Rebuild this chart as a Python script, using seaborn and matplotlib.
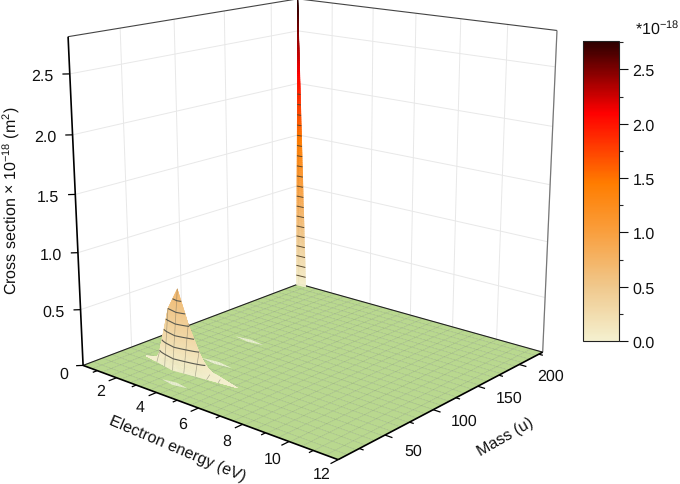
import numpy as np, matplotlib
matplotlib.use('Agg')
import matplotlib.pyplot as plt
from matplotlib.colors import LinearSegmentedColormap, Normalize
from matplotlib.cm import ScalarMappable
from mpl_toolkits.mplot3d import proj3d
import seaborn as sns
sns.set_style('white')
plt.rcParams['font.family']=['Liberation Sans','DejaVu Sans']
plt.rcParams['mathtext.default']='regular'
plt.rcParams['text.hinting']='no_hinting'
plt.rcParams['text.hinting_factor']=1
W,H=680,485
FS=11.3
energy_range=(0.25,12.0)
mass_range=(5.0,230.0)
z_range=(0.0,2.8)
energy_ticks=[2,4,6,8,10,12]
energy_minor=[1,3,5,7,9,11]
mass_ticks=[50,100,150,200]
mass_minor=[25,75,125,175,225]
z_ticks=[0.0,0.5,1.0,1.5,2.0,2.5]
z_ticklabels=['0','0.5','1.0','1.5','2.0','2.5']
cbar_max=2.765
cbar_ticks=[0.0,0.5,1.0,1.5,2.0,2.5]
cbar_minor=[0.25,0.75,1.25,1.75,2.25,2.75]
color_nodes=[(0.0,'#f4f0cf'),(0.5,'#f0c88c'),(1.0,'#f99f3e'),(1.45,'#ff7d00'),(2.1,'#ff0000'),(2.765,'#2a0000')]
cmap=LinearSegmentedColormap.from_list('cs',[(v/cbar_max,c) for v,c in color_nodes])
norm=Normalize(0,cbar_max)
# broad ridge: energies and heights along its crest at one mass
ridge_energy=[1.3,1.8,2.0,2.5,3.0,3.5,4.0,4.5,5.8]
ridge_height=[0.0,0.0,0.08,0.5,0.7,0.42,0.2,0.03,0.0]
ridge_mass=45.0
ridge_front_energy=[1.3,3.0,5.8]
ridge_front_mass=[45.0,38.5,45.0]
ridge_back_energy=[1.3,1.8,4.5,5.8]
ridge_back_mass=[45.0,52.0,52.0,45.0]
ridge_mesh_energy=[2.0,2.5,3.0,3.5,4.0,4.5,5.0]
# sharp spike in the corner
spike_energy=[0.25,0.75]
spike_base_mass=[227.0,227.5]
spike_apex=(0.25,230.0,2.8)
# thin low-level streaks on the floor: energy start, energy end, mass
streak_start=[2.4,3.3,2.95]
streak_end=[3.8,4.55,4.45]
streak_mass=[113.0,23.0,67.5]
floor_energy=np.linspace(0.25,12.0,25)
floor_mass=np.linspace(5,230,27)

fig=plt.figure(figsize=(W/100,H/100),dpi=100)
s,tx,ty=3058.7,315.51,282.86
L=(tx-0.095*s)/W;B=(ty-0.095*s)/H;SZ=0.185*s
ax=fig.add_axes([L,B,SZ/W,SZ/H],projection='3d',computed_zorder=False)
ax.set_proj_type('persp',focal_length=0.487)
ax.view_init(15.822,-49.6)
ax.set_box_aspect((2.994,2.974,2.999))
ax.set_xlim(*energy_range);ax.set_ylim(*mass_range);ax.set_zlim(*z_range)
ax.set_xticks(energy_ticks);ax.set_yticks(mass_ticks);ax.set_zticks(z_ticks)
ax.set_xticklabels([]);ax.set_yticklabels([]);ax.set_zticklabels([])
for a in (ax.xaxis,ax.yaxis,ax.zaxis):
    a.set_pane_color((1,1,1,0))
    a.pane.set_edgecolor((1,1,1,0))
    a._axinfo['grid'].update(color='#e8e8e8',linewidth=0.7)
    a._axinfo['tick'].update(linewidth={True:0,False:0})
    a.line.set_color((1,1,1,0))
E0,E1=energy_range;M0,M1=mass_range;Z0,Z1=z_range
# floor
X,Y=np.meshgrid(floor_energy,floor_mass)
ax.plot_surface(X,Y,np.zeros_like(X),color='#b9d88f',edgecolor=(0.40,0.50,0.33,0.30),linewidth=0.35,shade=False,zorder=2)
# box edges
def edge(p,q,c,lw,z=3):
    ax.plot([p[0],q[0]],[p[1],q[1]],[p[2],q[2]],color=c,lw=lw,zorder=z,solid_capstyle='butt')
edge((E0,M1,0),(E0,M1,Z1),'#555555',0.8,1)
edge((E0,M0,Z1),(E0,M1,Z1),'#444444',0.8)
edge((E0,M1,Z1),(E1,M1,Z1),'#444444',0.8)
edge((E1,M1,0),(E1,M1,Z1),'#777777',0.9)
edge((E0,M0,0),(E0,M1,0),'#222222',0.8)
edge((E0,M1,0),(E1,M1,0),'#222222',0.8)
edge((E0,M0,0),(E1,M0,0),'black',1.2)
edge((E1,M0,0),(E1,M1,0),'black',1.2)
edge((E0,M0,0),(E0,M0,Z1),'black',1.2)
# ticks
for v,n in [(t,7) for t in energy_ticks]+[(t,4) for t in energy_minor]:
    edge((v,M0,0),(v,M0-n,0),'black',0.9)
for v,n in [(t,0.3) for t in mass_ticks]+[(t,0.17) for t in mass_minor]:
    edge((E1,v,0),(E1+n,v,0),'black',0.9)
for v in z_ticks:
    edge((E0,M0,v),(E0-0.17,M0-3.4,v),'black',0.9)
# streaks
for a_,b_,m_ in zip(streak_start,streak_end,streak_mass):
    ee=np.linspace(a_,b_,21)
    w=2.2*(1-np.abs(2*(ee-a_)/(b_-a_)-1))
    XX=np.vstack([ee,ee]);YY=np.vstack([m_-w,m_+w])
    ax.plot_surface(XX,YY,0*XX,color='#f0f2da',linewidth=0,shade=False,zorder=3)
# ridge
ee=np.linspace(ridge_energy[0],ridge_energy[-1],91)
hh=np.interp(ee,ridge_energy,ridge_height)
front=np.interp(ee,ridge_front_energy,ridge_front_mass)
back=np.interp(ee,ridge_back_energy,ridge_back_mass)
ss=np.linspace(0,1,25)
def smooth(srf):
    srf.set_edgecolor('face');srf.set_linewidth(0.25)
def patch(edge_mass,z):
    XX=np.tile(ee,(len(ss),1))
    YY=np.outer(1-ss,edge_mass)+np.outer(ss,np.full_like(ee,ridge_mass))
    ZZ=np.outer(ss,hh)
    srf=ax.plot_surface(XX,YY,ZZ,cmap=cmap,norm=norm,rstride=1,cstride=1,linewidth=0,shade=False,zorder=z)
    smooth(srf)
    return XX,YY,ZZ
patch(back,4)
XX,YY,ZZ=patch(front,5)
ax.contour(XX,YY,ZZ,levels=np.arange(0.1,0.70,0.1),colors='#5a5a50',linewidths=0.8,zorder=6)
for e in ridge_mesh_energy:
    ax.plot([e,e],[np.interp(e,ee,front),ridge_mass],[0,np.interp(e,ee,hh)],color=(0.35,0.35,0.3,0.45),lw=0.5,zorder=6)
# spike
uu=np.linspace(0,1,11);vv=np.linspace(0,1,141)
U,V=np.meshgrid(uu,vv)
bx=spike_energy[0]+(spike_energy[1]-spike_energy[0])*U
by=spike_base_mass[0]+(spike_base_mass[1]-spike_base_mass[0])*U
SX=bx+V*(spike_apex[0]-bx);SY=by+V*(spike_apex[1]-by);SZZ=V*spike_apex[2]
srf=ax.plot_surface(SX,SY,SZZ,cmap=cmap,norm=norm,rstride=1,cstride=1,linewidth=0,shade=False,zorder=7)
smooth(srf)
ax.contour(SX,SY,SZZ,levels=np.arange(0.1,1.95,0.1),colors='#5a4a30',linewidths=0.7,zorder=8)
# tick labels
fig.canvas.draw()
M=ax.get_proj()
def lab(x,y,z,t,dx,dy,ha='center'):
    a,b,_=proj3d.proj_transform(x,y,z,M)
    ax.annotate(t,xy=(a,b),xycoords='data',xytext=(dx,dy),textcoords='offset pixels',ha=ha,va='center',fontsize=FS,color='#111111',annotation_clip=False,zorder=10)
for t in energy_ticks:
    lab(t,M0,0,str(t),-16,-12.5-0.5*t if t<12 else -14.5)
for t in mass_ticks:
    lab(E1,t,0,str(t),31 if t>50 else 28,-11 if t>50 else -16)
for t,l in zip(z_ticks,z_ticklabels):
    if t==0:
        lab(E0,M0,t,l,-15,-8,'right')
    else:
        lab(E0,M0,t,l,-16,-2,'right')
def flab(x,y,t,rot):
    fig.text(x/W,1-y/H,t,rotation=rot,rotation_mode='anchor',ha='center',va='center',fontsize=FS,color='#111111')
flab(177,449,'Electron energy (eV)',-23)
flab(505,437,'Mass (u)',30)
flab(11,201,r'Cross section $\times$ 10$^{-18}$ (m$^{2}$)',90)
# colour bar
cax=fig.add_axes([582.7/W,1-342/H,36.6/W,300.3/H])
cb=fig.colorbar(ScalarMappable(norm=norm,cmap=cmap),cax=cax)
cb.set_ticks(cbar_ticks)
cb.set_ticklabels([f'{v:.1f}' for v in cbar_ticks],fontsize=FS,color='#111111')
cb.set_ticks(cbar_minor,minor=True)
cax.tick_params(which='major',length=6.5,width=0.8,pad=3,colors='#111111',right=True)
cax.tick_params(which='minor',length=3.2,width=0.8,right=True)
cb.outline.set_linewidth(0.8);cb.outline.set_edgecolor('#222222')
fig.text(635/W,1-28/H,r'*10$^{-18}$',fontsize=FS,ha='left',va='center',color='#111111')
fig.savefig('out.png',dpi=100)
